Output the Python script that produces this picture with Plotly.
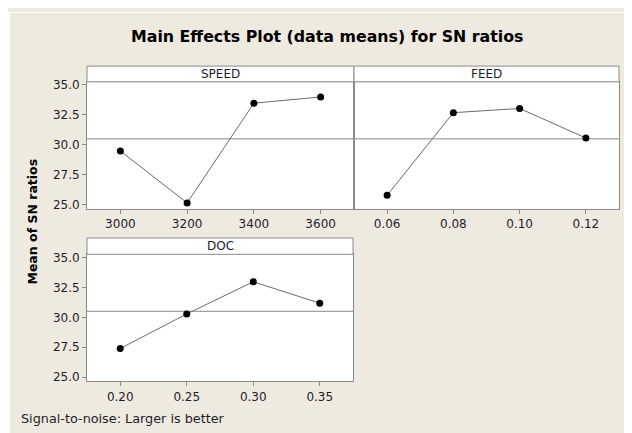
import plotly.graph_objects as go

W, H = 632, 433

speed_levels = [3000, 3200, 3400, 3600]
speed_sn = [29.48, 25.16, 33.47, 33.99]
feed_levels = [0.06, 0.08, 0.10, 0.12]
feed_sn = [25.80, 32.68, 33.03, 30.57]
doc_levels = [0.20, 0.25, 0.30, 0.35]
doc_sn = [27.40, 30.28, 32.96, 31.18]

y_ticks = [25.0, 27.5, 30.0, 32.5, 35.0]
speed_ticks = [3000, 3200, 3400, 3600]
feed_ticks = [0.06, 0.08, 0.10, 0.12]
doc_ticks = [0.20, 0.25, 0.30, 0.35]

all_vals = speed_sn + feed_sn + doc_sn
grand_mean = sum(all_vals) / len(all_vals)

FONT = "DejaVu Sans"
TXT = "#1e1e28"
FRAME = "#8a8a8a"
BEIGE = "#eeeae0"

OFF = 8  # page body margin


def px_x(v):
    return (v - OFF) / W


def px_y(v):
    return 1 - (v - OFF) / H


fig = go.Figure()

panels = [
    ("x", "y", speed_levels, speed_sn),
    ("x2", "y2", feed_levels, feed_sn),
    ("x3", "y3", doc_levels, doc_sn),
]
for xa, ya, lv, vals in panels:
    fig.add_trace(go.Scatter(
        x=lv, y=vals, xaxis=xa, yaxis=ya, mode="lines+markers",
        line=dict(color="#6a6a6a", width=1),
        marker=dict(color="black", size=7),
        showlegend=False, hoverinfo="skip",
    ))

yr = [24.67, 35.25]
axis_common = dict(showline=True, linecolor=FRAME, linewidth=1, mirror=True,
                   showgrid=False, zeroline=False,
                   tickfont=dict(family=FONT, size=12, color=TXT))

top_dom = [px_y(208), px_y(79)]
bot_dom = [px_y(383.3), px_y(254.3)]

fig.update_layout(
    width=W, height=H,
    margin=dict(l=0, r=0, t=0, b=0),
    paper_bgcolor=BEIGE, plot_bgcolor="white",
    xaxis=dict(domain=[px_x(87), px_x(354)], range=[2900, 3700], anchor="y",
               tickvals=speed_ticks, ticktext=[str(t) for t in speed_ticks],
               ticks="outside", ticklen=4, tickcolor=FRAME, **axis_common),
    yaxis=dict(domain=top_dom, range=yr, anchor="x",
               tickvals=y_ticks, ticktext=[f"{t:.1f}" for t in y_ticks],
               ticks="outside", ticklen=4, tickcolor=FRAME, **axis_common),
    xaxis2=dict(domain=[px_x(354), px_x(619)], range=[0.05, 0.13], anchor="y2",
                tickvals=feed_ticks, ticktext=[f"{t:.2f}" for t in feed_ticks],
                ticks="outside", ticklen=4, tickcolor=FRAME, **axis_common),
    yaxis2=dict(domain=top_dom, range=yr, anchor="x2", showticklabels=False,
                ticks="", **axis_common),
    xaxis3=dict(domain=[px_x(87), px_x(353)], range=[0.175, 0.375], anchor="y3",
                tickvals=doc_ticks, ticktext=[f"{t:.2f}" for t in doc_ticks],
                ticks="outside", ticklen=4, tickcolor=FRAME, **axis_common),
    yaxis3=dict(domain=bot_dom, range=yr, anchor="x3",
                tickvals=y_ticks, ticktext=[f"{t:.1f}" for t in y_ticks],
                ticks="outside", ticklen=4, tickcolor=FRAME, **axis_common),
)

shapes = []
# thin white edges at top and left (outside plot areas)
shapes.append(dict(type="rect", xref="paper", yref="paper", x0=0, x1=1,
                   y0=px_y(9), y1=1, fillcolor="white", line=dict(width=0)))
shapes.append(dict(type="rect", xref="paper", yref="paper", x0=0, x1=px_x(10),
                   y0=0, y1=1, fillcolor="white", line=dict(width=0)))

# strips
strips = [("SPEED", 87, 354, 63, 79), ("FEED", 354, 619, 63, 79), ("DOC", 87, 353, 237.7, 254.3)]
annotations = []
for name, x0, x1, y0, y1 in strips:
    shapes.append(dict(type="rect", xref="paper", yref="paper",
                       x0=px_x(x0), x1=px_x(x1), y0=px_y(y1), y1=px_y(y0),
                       fillcolor="white", line=dict(color=FRAME, width=1)))
    annotations.append(dict(xref="paper", yref="paper", x=px_x((x0 + x1) / 2),
                            y=px_y((y0 + y1) / 2), text=name, showarrow=False,
                            xanchor="center", yanchor="middle",
                            font=dict(family=FONT, size=12, color=TXT)))

# grand mean reference lines
for xa, ya in [("x", "y"), ("x2", "y2"), ("x3", "y3")]:
    shapes.append(dict(type="line", xref=f"{xa} domain", yref=ya, x0=0, x1=1,
                       y0=grand_mean, y1=grand_mean,
                       line=dict(color=FRAME, width=1), layer="below"))

annotations.append(dict(xref="paper", yref="paper", x=px_x(327), y=px_y(33),
                        text="<b>Main Effects Plot (data means) for SN ratios</b>",
                        showarrow=False, xanchor="center", yanchor="middle",
                        font=dict(family=FONT, size=15.8, color="black")))
annotations.append(dict(xref="paper", yref="paper", x=px_x(33), y=px_y(221),
                        text="<b>Mean of SN ratios</b>", textangle=-90,
                        showarrow=False, xanchor="center", yanchor="middle",
                        font=dict(family=FONT, size=12.5, color="black")))
annotations.append(dict(xref="paper", yref="paper", x=px_x(19), y=px_y(421),
                        text="Signal-to-noise: Larger is better",
                        showarrow=False, xanchor="left", yanchor="middle",
                        font=dict(family=FONT, size=12.8, color=TXT)))

fig.update_layout(shapes=shapes, annotations=annotations)
fig.write_html("out.html")
